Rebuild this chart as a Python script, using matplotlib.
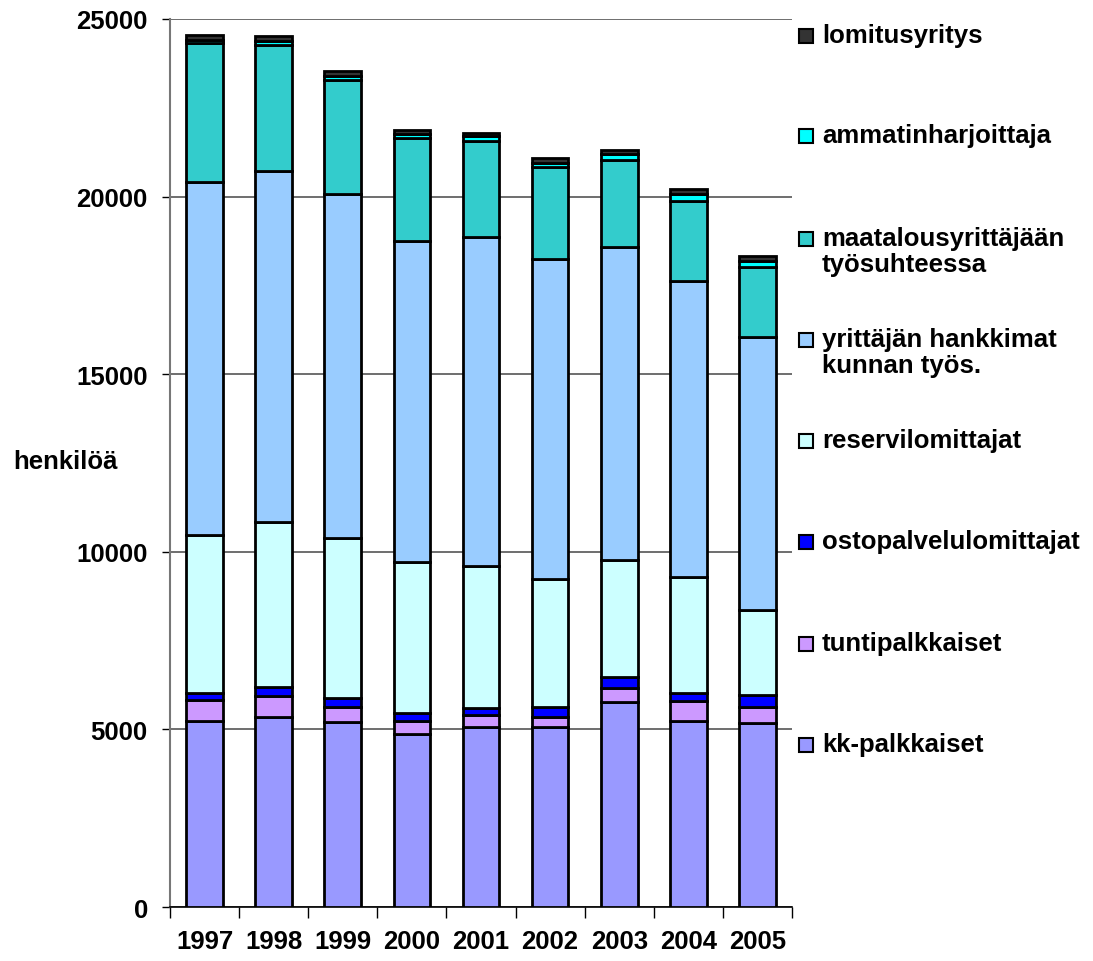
import matplotlib.pyplot as plt
import numpy as np
from matplotlib.patches import Rectangle

plt.rcParams['font.family'] = ['Liberation Sans', 'DejaVu Sans']
plt.rcParams['font.weight'] = 'bold'

years = ['1997', '1998', '1999', '2000', '2001', '2002', '2003', '2004', '2005']

# henkilöä per ryhmä (luettu kuvasta)
kk_palkkaiset = [5235, 5348, 5198, 4878, 5057, 5057, 5770, 5235, 5188]
tuntipalkkaiset = [600, 600, 431, 348, 338, 299, 384, 554, 432]
ostopalvelu = [179, 253, 244, 234, 215, 273, 319, 234, 356]
reservi = [4447, 4626, 4504, 4259, 3996, 3603, 3302, 3265, 2374]
yrittajan_hankkimat = [9944, 9907, 9710, 9017, 9260, 9025, 8801, 8322, 7701]
maatalous = [3921, 3546, 3208, 2916, 2712, 2570, 2468, 2269, 1971]
ammatinharjoittaja = [95, 113, 113, 104, 131, 132, 168, 208, 160]
lomitusyritys = [130, 141, 130, 113, 84, 122, 113, 121, 141]

series = [kk_palkkaiset, tuntipalkkaiset, ostopalvelu, reservi,
          yrittajan_hankkimat, maatalous, ammatinharjoittaja, lomitusyritys]
labels = ['kk-palkkaiset', 'tuntipalkkaiset', 'ostopalvelulomittajat',
          'reservilomittajat', 'yrittäjän hankkimat\nkunnan työs.',
          'maatalousyrittäjään\ntyösuhteessa', 'ammatinharjoittaja',
          'lomitusyritys']
colors = ['#9999FF', '#CC99FF', '#0000FF', '#CCFFFF',
          '#99CCFF', '#33CCCC', '#00FFFF', '#333333']

FS = 18.5

fig = plt.figure(figsize=(10.93, 9.62), dpi=100)
ax = fig.add_axes([170/1093, 1-908/962, 622/1093, 888/962])

x = np.arange(len(years))
bottom = np.zeros(len(years))
for vals, col in zip(series, colors):
    ax.bar(x, vals, 0.53, bottom=bottom, color=col, edgecolor='black',
           linewidth=2.0, zorder=3)
    bottom += np.array(vals)

ax.set_xlim(-0.5, len(years) - 0.5)
ax.set_ylim(0, 25000)
ax.set_yticks(np.arange(0, 25001, 5000))
ax.yaxis.grid(True, color='#555555', linewidth=1.2, zorder=0)
ax.set_axisbelow(True)

for s in ['top', 'right']:
    ax.spines[s].set_visible(False)
ax.spines['left'].set_color('#777777')
ax.spines['left'].set_linewidth(1.5)
ax.spines['bottom'].set_color('black')
ax.spines['bottom'].set_linewidth(1.2)

# pääakselin jakoviivat luokkien rajoille
ax.set_xticks(np.arange(-0.5, len(years), 1.0))
ax.set_xticklabels([])
ax.set_xticks(x, minor=True)
ax.set_xticklabels(years, minor=True, fontsize=FS, fontweight='bold')
ax.tick_params(axis='x', which='major', direction='out', length=8, width=1)
ax.tick_params(axis='x', which='minor', length=0, pad=16)
ax.tick_params(axis='y', direction='out', length=6, width=1, labelsize=FS, pad=10)
for t in ax.get_yticklabels():
    t.set_fontweight('bold')

fig.text(13/1093, 1-462/962, 'henkilöä', fontsize=FS, fontweight='bold',
         va='center', ha='left')

# selite käsin, neliö ensimmäisen rivin kohdalle
leg_y = [37, 137, 240, 341, 442, 543, 645, 746]
for i, (lab, col) in enumerate(zip(labels[::-1], colors[::-1])):
    yc = leg_y[i]
    fig.patches.append(Rectangle((799/1093, 1-(yc+7)/962), 14/1093, 14/962,
                                 transform=fig.transFigure, facecolor=col,
                                 edgecolor='black', linewidth=1.5))
    fig.text(822/1093, 1-(yc-13)/962, lab, fontsize=FS, fontweight='bold',
             va='top', ha='left', linespacing=1.12)

fig.savefig('out.png', dpi=100)
